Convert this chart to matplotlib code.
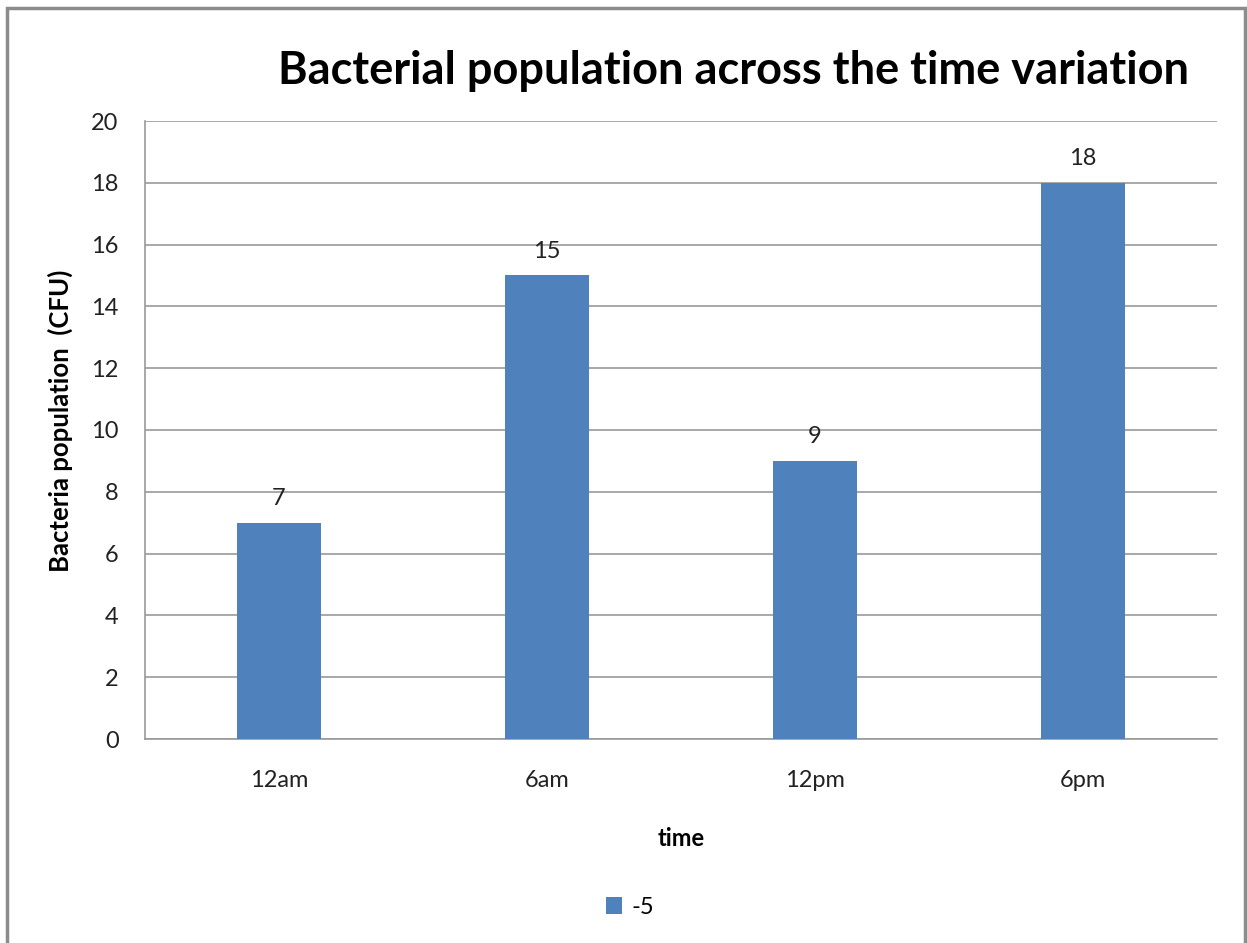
import matplotlib.pyplot as plt
from matplotlib.patches import Rectangle

# bacterial counts per sampling time
times = ["12am", "6am", "12pm", "6pm"]
counts = [7, 15, 9, 18]
series_name = "-5"

plt.rcParams['font.family'] = ['Lato', 'DejaVu Sans']

fig = plt.figure(figsize=(12.47, 9.43), dpi=100)
ax = fig.add_axes([145 / 1247, 1 - 739 / 943, 1072 / 1247, (739 - 121) / 943])

# outer chart frame
fig.patches.append(Rectangle((7 / 1247, -0.05), 1238 / 1247, 1 - 8 / 943 + 0.05,
                             transform=fig.transFigure, fill=False,
                             edgecolor='#8c8c8c', linewidth=2.5))

xs = range(len(times))
bars = ax.bar(xs, counts, width=0.31, color='#4F81BD', label=series_name, zorder=3)
for b, v in zip(bars, counts):
    ax.text(b.get_x() + b.get_width() / 2, v + 0.45, str(v), ha='center', va='bottom',
            fontsize=17, color='#222222')

ax.set_xlim(-0.5, len(times) - 0.5)
ax.set_ylim(0, 20)
ax.set_yticks(range(0, 21, 2))
ax.set_xticks(list(xs))
ax.set_xticklabels(times)
ax.tick_params(length=0, labelsize=17, colors='#222222')
ax.tick_params(axis='x', pad=22)
ax.tick_params(axis='y', pad=19)
ax.yaxis.grid(True, color='#9a9a9a', linewidth=1.2, zorder=0)
ax.set_axisbelow(True)
for s in ['left', 'bottom']:
    ax.spines[s].set_color('#9a9a9a')
    ax.spines[s].set_linewidth(1.2)
for s in ['top', 'right']:
    ax.spines[s].set_visible(False)

ax.set_xlabel("time", fontsize=17, fontweight='bold', labelpad=26)
ax.set_ylabel("Bacteria population  (CFU)", fontsize=18.5, fontweight='bold')
ax.yaxis.set_label_coords(-0.067, 0.515)

fig.text(733 / 1247, 1 - 71 / 943, "Bacterial population across the time variation",
         ha='center', va='center', fontsize=32.5, fontweight='bold')

fig.legend(loc='center', bbox_to_anchor=(630 / 1247, 1 - 907 / 943), frameon=False,
           fontsize=17, handlelength=0.7, handleheight=0.7, handletextpad=0.4)

fig.savefig("out.png", dpi=100)
